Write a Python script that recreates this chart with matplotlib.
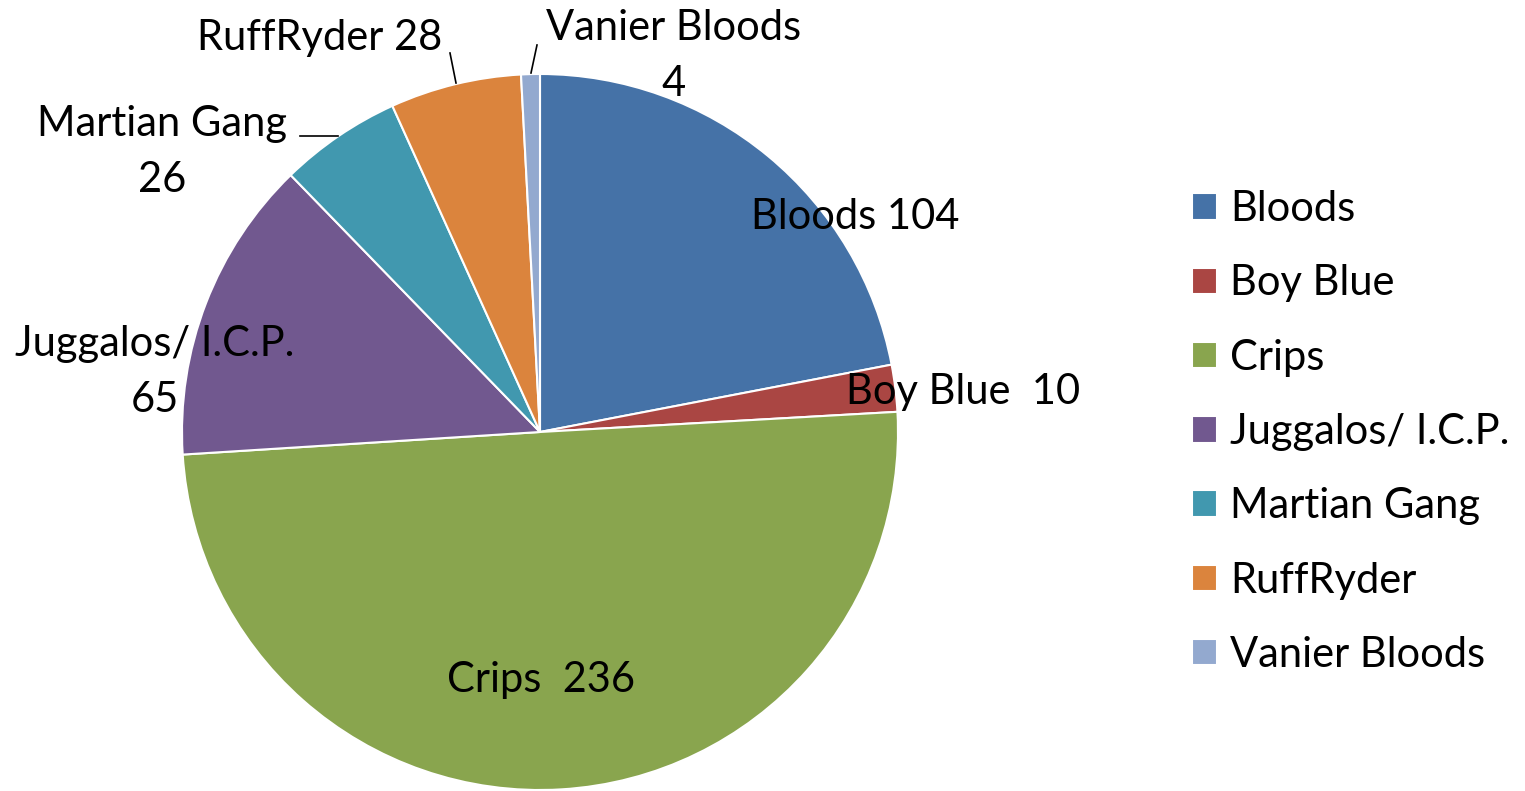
import matplotlib.pyplot as plt

# data
gangs = ["Bloods", "Boy Blue", "Crips", "Juggalos/ I.C.P.", "Martian Gang", "RuffRyder", "Vanier Bloods"]
counts = [104, 10, 236, 65, 26, 28, 4]
colors = ["#4572A7", "#AA4643", "#89A54E", "#71588F", "#4198AF", "#DB843D", "#93A9CF"]
label_texts = ["Bloods 104", "Boy Blue  10", "Crips  236", "Juggalos/ I.C.P.\n65",
               "Martian Gang\n26", "RuffRyder 28", "Vanier Bloods\n4"]

plt.rcParams['font.family'] = ['Lato', 'DejaVu Sans']
FS = 30

W, H = 1525, 791
fig = plt.figure(figsize=(W / 100, H / 100), dpi=100)
ax = fig.add_axes([0, 0, 1, 1])

cx, cy, r = 540, H - 432, 358
wedges, _ = ax.pie(counts, colors=colors, startangle=90, counterclock=False,
                   center=(cx, cy), radius=r, frame=True,
                   wedgeprops=dict(edgecolor='white', linewidth=1.5))
ax.set_xlim(0, W)
ax.set_ylim(0, H)
ax.set_aspect('equal')
ax.axis('off')

# label positions (pixel coords from top) and leader lines
label_pos = [(855, 217), (963, 392), (541, 680), (155, 372), (162, 152), (320, 38), (674, 56)]
leaders = {4: ((300, 136), (338, 136)), 5: ((450, 53), (456, 83)), 6: ((537, 45), (531, 73))}

for i, txt in enumerate(label_texts):
    x, y = label_pos[i]
    ax.text(x, H - y, txt, ha='center', va='center', fontsize=FS,
            linespacing=1.55, color='black')
    if i in leaders:
        (x0, y0), (x1, y1) = leaders[i]
        ax.plot([x0, x1], [H - y0, H - y1], color='black', lw=1.2)

ax.legend(wedges, gangs, loc='center left', bbox_to_anchor=(1192 / W, 1 - 432 / H),
          bbox_transform=fig.transFigure, frameon=False, fontsize=FS,
          borderaxespad=0, borderpad=0, handlelength=0.6, handleheight=0.6,
          handletextpad=0.31, labelspacing=0.87)

fig.savefig("out.png", dpi=100)
